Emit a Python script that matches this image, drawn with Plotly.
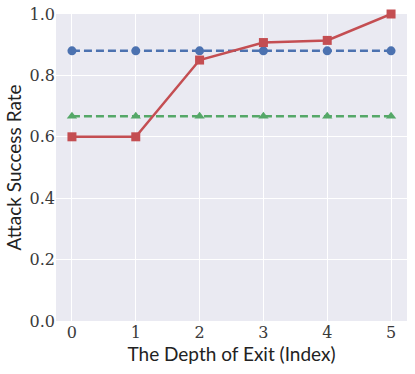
import plotly.graph_objects as go

depth = [0, 1, 2, 3, 4, 5]
blue_vals = [0.88, 0.88, 0.88, 0.88, 0.88, 0.88]
green_vals = [0.667, 0.667, 0.667, 0.667, 0.667, 0.667]
red_vals = [0.6, 0.6, 0.85, 0.907, 0.914, 1.0]

fig = go.Figure()
fig.add_trace(go.Scatter(x=depth, y=blue_vals, mode='lines+markers',
                         line=dict(color='#4C72B0', width=2.5, dash='8px,4px'),
                         marker=dict(symbol='circle', size=9, color='#4C72B0'),
                         showlegend=False, cliponaxis=False))
fig.add_trace(go.Scatter(x=depth, y=green_vals, mode='lines+markers',
                         line=dict(color='#55A868', width=2.5, dash='8px,4px'),
                         marker=dict(symbol='triangle-up', size=9, color='#55A868'),
                         showlegend=False, cliponaxis=False))
fig.add_trace(go.Scatter(x=depth, y=red_vals, mode='lines+markers',
                         line=dict(color='#C44E52', width=2.5),
                         marker=dict(symbol='square', size=9, color='#C44E52'),
                         showlegend=False, cliponaxis=False))

fig.update_layout(
    width=415, height=374,
    margin=dict(l=56, r=8, t=14, b=53),
    plot_bgcolor='#EAEAF2', paper_bgcolor='white',
    font=dict(family='DejaVu Serif', size=16, color='#3a3a3a'),
    xaxis=dict(range=[-0.25, 5.25], tickvals=depth, showgrid=True, gridcolor='white',
               gridwidth=1, zeroline=False, ticks='', ticklen=0, automargin=False,
               title=dict(text='The Depth of Exit (Index)', standoff=2,
                          font=dict(family='Lato', size=19, color='#222222'))),
    yaxis=dict(range=[0, 1.0], tickvals=[0, 0.2, 0.4, 0.6, 0.8, 1.0], tickformat='.1f',
               showgrid=True, gridcolor='white', gridwidth=1, zeroline=False, automargin=False,
               title=dict(text='Attack Success Rate', standoff=2,
                          font=dict(family='Lato', size=19, color='#222222'))),
)

# drop the default 8px page margin so the figure sits at the window corner
fig.write_html("out.html", config={'displayModeBar': False},
               post_script="document.body.style.margin='0';")
